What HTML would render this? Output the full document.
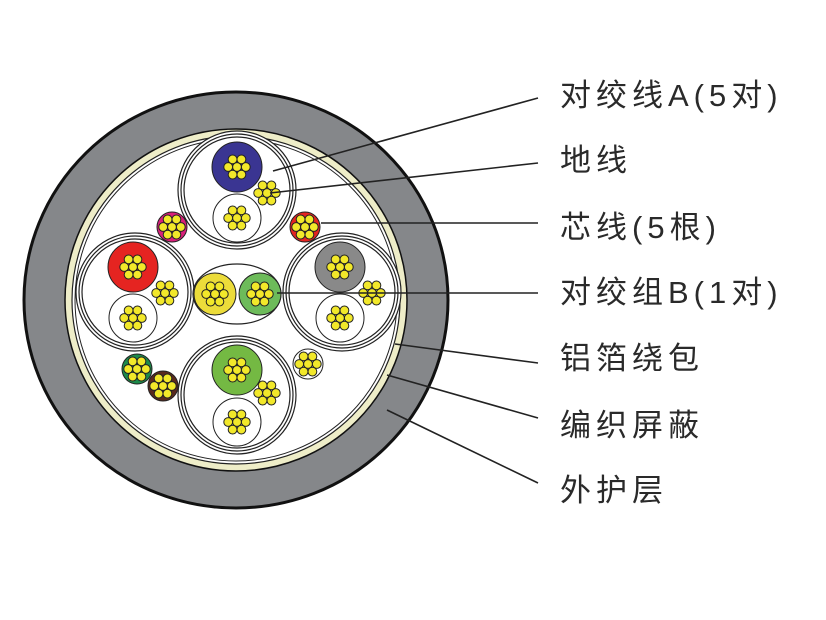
<!DOCTYPE html>
<html><head><meta charset="utf-8"><style>
html,body{margin:0;padding:0;background:#fff;}
svg{display:block;}
text{font-family:"Liberation Sans","Noto Sans CJK SC",sans-serif;font-size:31px;fill:#2a2a2a;letter-spacing:5px;}
</style></head><body>
<svg width="826" height="620" viewBox="0 0 826 620" xmlns="http://www.w3.org/2000/svg">
<defs>
<g id="c7" stroke="#222" stroke-width="1" fill="#f2e82a">
<circle cx="0" cy="0" r="4.4"/><circle cx="8.8" cy="0" r="4.4"/><circle cx="-8.8" cy="0" r="4.4"/>
<circle cx="4.4" cy="-7.6" r="4.4"/><circle cx="-4.4" cy="-7.6" r="4.4"/><circle cx="4.4" cy="7.6" r="4.4"/><circle cx="-4.4" cy="7.6" r="4.4"/>
</g>
<g id="grp" fill="none" stroke="#222" stroke-width="1.2">
<circle r="59" fill="#fff"/><circle r="56"/><circle r="53"/>
</g>
</defs>
<ellipse cx="236" cy="300" rx="212" ry="208" fill="#85878a" stroke="#111" stroke-width="3"/>
<circle cx="236" cy="300" r="171" fill="#eeedc8" stroke="#111" stroke-width="1.5"/>
<circle cx="236" cy="300" r="164" fill="#fff" stroke="#222" stroke-width="1.2"/>
<circle cx="236" cy="300" r="161" fill="none" stroke="#222" stroke-width="1"/>

<use href="#grp" x="237" y="190"/>
<circle cx="237" cy="167" r="25" fill="#3a3592" stroke="#222"/><use href="#c7" x="237" y="167"/>
<circle cx="237" cy="218" r="24" fill="#fff" stroke="#222"/><use href="#c7" x="237" y="218"/>
<use href="#c7" x="267" y="193"/>
<use href="#grp" x="135" y="292"/>
<circle cx="133" cy="267" r="25" fill="#e52421" stroke="#222"/><use href="#c7" x="133" y="267"/>
<circle cx="133" cy="318" r="24" fill="#fff" stroke="#222"/><use href="#c7" x="133" y="318"/>
<use href="#c7" x="165" y="293"/>
<use href="#grp" x="342" y="292"/>
<circle cx="340" cy="267" r="25" fill="#898989" stroke="#222"/><use href="#c7" x="340" y="267"/>
<circle cx="340" cy="318" r="24" fill="#fff" stroke="#222"/><use href="#c7" x="340" y="318"/>
<use href="#c7" x="372" y="293"/>
<use href="#grp" x="237" y="395"/>
<circle cx="237" cy="370" r="25" fill="#74b943" stroke="#222"/><use href="#c7" x="237" y="370"/>
<circle cx="237" cy="422" r="24" fill="#fff" stroke="#222"/><use href="#c7" x="237" y="422"/>
<use href="#c7" x="267" y="393"/>
<ellipse cx="237" cy="294" rx="44" ry="30" fill="#fff" stroke="#222" stroke-width="1.2"/>
<circle cx="215" cy="294" r="21" fill="#ecdc3a" stroke="#222"/><use href="#c7" x="215" y="294"/>
<circle cx="260" cy="294" r="21" fill="#6dbb5a" stroke="#222"/><use href="#c7" x="260" y="294"/>
<circle cx="172" cy="227" r="15" fill="#d9207a" stroke="#222"/><use href="#c7" x="172" y="227"/>
<circle cx="305" cy="227" r="15" fill="#e52421" stroke="#222"/><use href="#c7" x="305" y="227"/>
<circle cx="137" cy="369" r="15" fill="#1d8a4a" stroke="#222"/><use href="#c7" x="137" y="369"/>
<circle cx="163" cy="386" r="15" fill="#5a2a1e" stroke="#222"/><use href="#c7" x="163" y="386"/>
<circle cx="308" cy="364" r="15" fill="#fff" stroke="#222"/><use href="#c7" x="308" y="364"/>

<g stroke="#222" stroke-width="1.6" fill="none">
<line x1="273" y1="171" x2="538" y2="98"/>
<line x1="270" y1="193" x2="538" y2="163"/>
<line x1="321" y1="223" x2="538" y2="223"/>
<line x1="277" y1="293" x2="538" y2="293"/>
<line x1="395" y1="344" x2="538" y2="363"/>
<line x1="387" y1="375" x2="538" y2="418"/>
<line x1="387" y1="410" x2="538" y2="483"/>
</g>
<text x="560" y="106">对绞线A(5对)</text>
<text x="560" y="171">地线</text>
<text x="560" y="238">芯线(5根)</text>
<text x="560" y="303">对绞组B(1对)</text>
<text x="560" y="369">铝箔绕包</text>
<text x="560" y="436">编织屏蔽</text>
<text x="560" y="501">外护层</text>
</svg>
</body></html>
